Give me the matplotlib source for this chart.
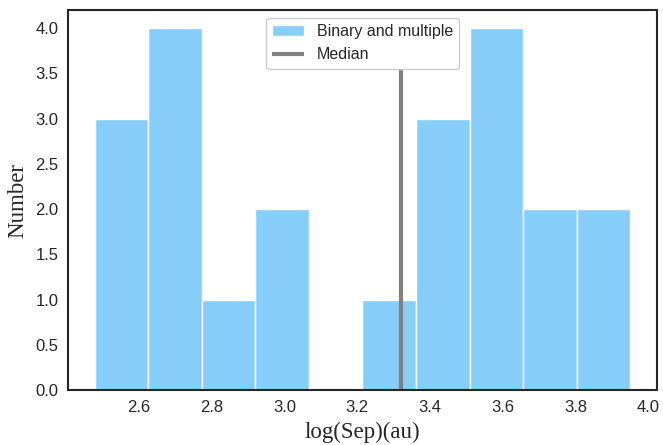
import matplotlib
matplotlib.use("Agg")
import matplotlib.pyplot as plt
import numpy as np
import seaborn as sns

bin_left = 2.478
bin_right = 3.951
n_bins = 10
counts = [3, 4, 1, 2, 0, 1, 3, 4, 2, 2]
median_value = 3.321
xticks = [2.6, 2.8, 3.0, 3.2, 3.4, 3.6, 3.8, 4.0]
yticks = [0.0, 0.5, 1.0, 1.5, 2.0, 2.5, 3.0, 3.5, 4.0]

sns.set_style("white")
plt.rcParams['font.family'] = ['Liberation Sans', 'DejaVu Sans']

edges = np.linspace(bin_left, bin_right, n_bins + 1)
centers = (edges[:-1] + edges[1:]) / 2

fig = plt.figure(figsize=(6.63, 4.45), dpi=100)
ax = fig.add_axes([68/663, 1-390/445, (657-68)/663, (390-10)/445])
ax.hist(centers, bins=edges, weights=counts, color='#87CEFA', edgecolor='white',
        linewidth=1, label='Binary and multiple')
ax.vlines(median_value, 0, 4.0, color='gray', linewidth=3, label='Median')
ax.set_xticks(xticks)
ax.set_yticks(yticks)
ax.set_xticklabels([f"{t:.1f}" for t in xticks], fontsize=12, color='#262626')
ax.set_yticklabels([f"{t:.1f}" for t in yticks], fontsize=12, color='#262626')
ax.set_ylim(0, 4.2)
for s in ax.spines.values():
    s.set_color('#262626')
    s.set_linewidth(1.5)
ax.set_xlabel('log(Sep)(au)', fontsize=16.5, family='Liberation Serif', color='#262626', labelpad=5)
ax.set_ylabel('Number', fontsize=16.5, family='Liberation Serif', color='#262626', labelpad=5)
ax.legend(loc='upper center', fontsize=11.5, framealpha=1, bbox_to_anchor=(0.5, 1.0))
fig.savefig('out.png', dpi=100)
